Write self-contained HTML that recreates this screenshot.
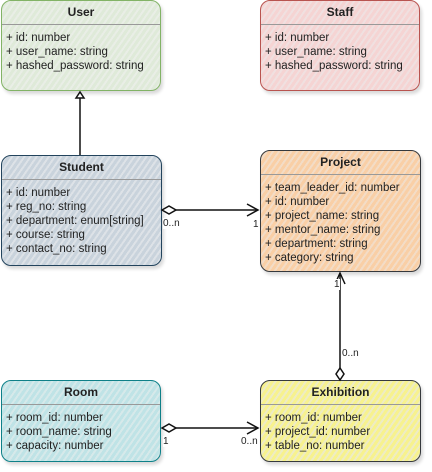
<!DOCTYPE html>
<html><head><meta charset="utf-8"><style>
body{margin:0;width:432px;height:472px;background:#fff;position:relative;overflow:hidden;font-family:"Liberation Sans",Arial,sans-serif;font-size:11.5px;color:#222}
.b{position:absolute;border:1.5px solid;border-radius:10px;box-sizing:border-box;box-shadow:2px 3px 3px rgba(0,0,0,0.15)}
.h{font-weight:bold;text-align:center;height:23px;line-height:23px;border-bottom:1px solid #999;font-size:12px}
.r{padding:6px 0 0 4px;line-height:14px;white-space:nowrap}
.l{position:absolute;font-size:10px;background:#fff;line-height:11px}
</style></head><body>
<div class="b" style="left:1px;top:0;width:160px;height:91px;border-color:#82b366;background:repeating-linear-gradient(-55deg,#dfead9 0 3px,#e9eee6 3px 5px)"><div class="h">User</div><div class="r">+ id: number<br>+ user_name: string<br>+ hashed_password: string</div></div>
<div class="b" style="left:260px;top:0;width:160px;height:91px;border-color:#b85450;background:repeating-linear-gradient(-55deg,#f5d4d3 0 3px,#f0e0e0 3px 5px)"><div class="h">Staff</div><div class="r">+ id: number<br>+ user_name: string<br>+ hashed_password: string</div></div>
<div class="b" style="left:1px;top:155px;width:161px;height:111px;border-color:#23445d;background:repeating-linear-gradient(-55deg,#c9d3dc 0 3px,#dde2e7 3px 5px)"><div class="h">Student</div><div class="r">+ id: number<br>+ reg_no: string<br>+ department: enum[string]<br>+ course: string<br>+ contact_no: string</div></div>
<div class="b" style="left:260px;top:150px;width:161px;height:122px;border-color:#36393d;background:repeating-linear-gradient(-55deg,#f9cfa6 0 3px,#f3dcc6 3px 5px)"><div class="h">Project</div><div class="r">+ team_leader_id: number<br>+ id: number<br>+ project_name: string<br>+ mentor_name: string<br>+ department: string<br>+ category: string</div></div>
<div class="b" style="left:1px;top:380px;width:160px;height:82px;border-color:#0e8088;background:repeating-linear-gradient(-55deg,#bfe3e6 0 3px,#d6e9ea 3px 5px)"><div class="h">Room</div><div class="r">+ room_id: number<br>+ room_name: string<br>+ capacity: number</div></div>
<div class="b" style="left:260px;top:380px;width:161px;height:82px;border-color:#36393d;background:repeating-linear-gradient(-55deg,#f7f28e 0 3px,#eeecc4 3px 5px)"><div class="h">Exhibition</div><div class="r">+ room_id: number<br>+ project_id: number<br>+ table_no: number</div></div>
<svg width="432" height="472" style="position:absolute;left:0;top:0" fill="none" stroke="#111" stroke-width="1.5">
<line x1="80" y1="155" x2="80" y2="97"/><path d="M76 98 L80 92 L84 98 Z" fill="#fff"/>
<line x1="176" y1="210" x2="257" y2="210"/><path d="M162 210 L169 206 L176 210 L169 214 Z" fill="#fff"/><path d="M247 204 L258 210 L247 216"/>
<line x1="340" y1="368" x2="340" y2="273"/><path d="M340 380 L336 374 L340 368 L344 374 Z" fill="#fff"/><path d="M335 284 L340 273 L345 284"/>
<line x1="176" y1="428" x2="258" y2="428"/><path d="M162 428 L169 424 L176 428 L169 432 Z" fill="#fff"/><path d="M247 422 L258 428 L247 434"/>
</svg>
<div class="l" style="left:163px;top:218px">0..n</div>
<div class="l" style="left:253px;top:219px">1</div>
<div class="l" style="left:334px;top:279px">1</div>
<div class="l" style="left:342px;top:348px">0..n</div>
<div class="l" style="left:163px;top:436px">1</div>
<div class="l" style="left:241px;top:436px">0..n</div>
</body></html>
